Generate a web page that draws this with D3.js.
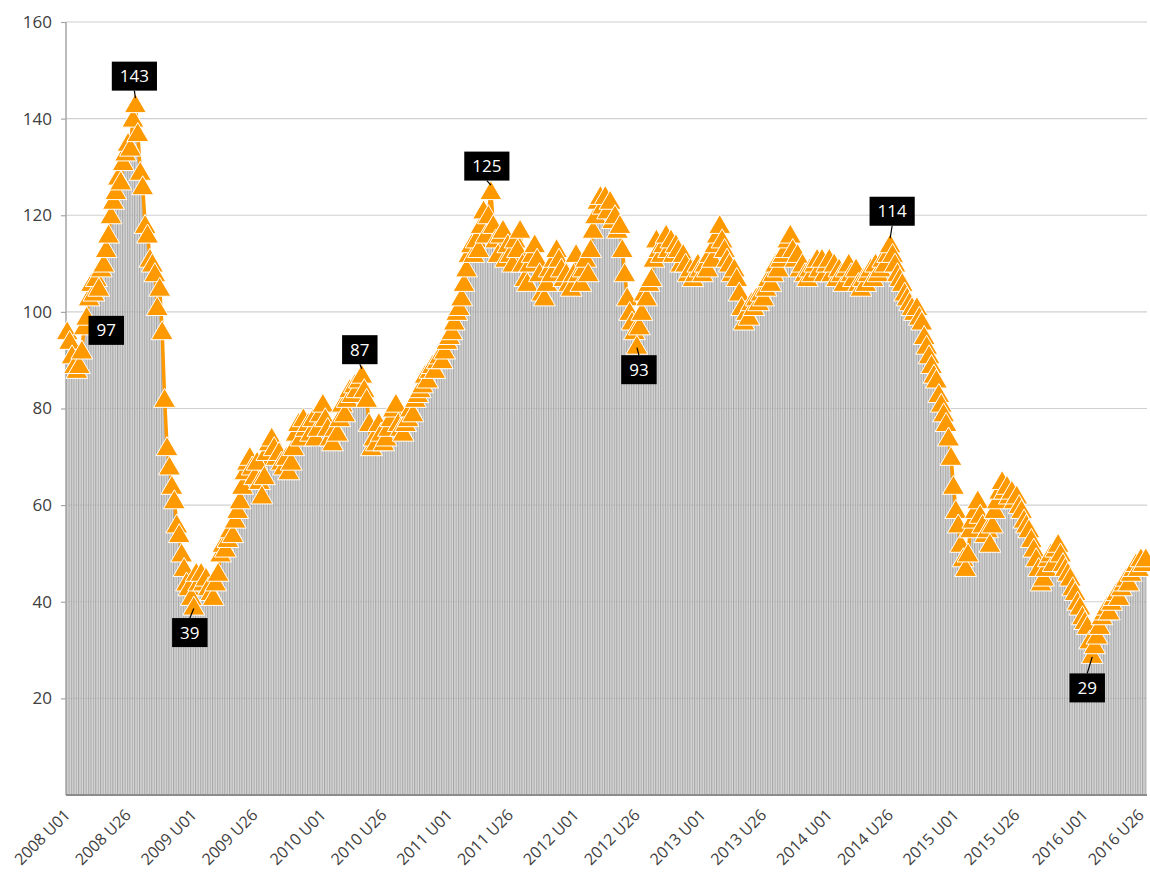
<!DOCTYPE html>
<html>

<head>
  <meta charset="utf-8">
  <script src="https://d3js.org/d3.v7.min.js"></script>
  <style>
    body { margin: 0; background: #fff; }
    text { font-family: "Open Sans", "DejaVu Sans", sans-serif; }
  </style>
</head>

<body>
  <script>
    // Weekly values, one array per year
    const years = [2008, 2009, 2010, 2011, 2012, 2013, 2014, 2015, 2016];
    const weeksPerYear = [52, 53, 52, 52, 52, 52, 52, 53, 26];

    const values2008 = [96, 94, 91, 89, 88, 89, 92, 97, 99, 103, 106, 104, 107, 105, 109, 110, 113, 116, 120, 123, 125, 128, 127, 131, 133, 135, 134, 140, 143, 137, 129, 126, 118, 116, 111, 110, 108, 101, 105, 96, 82, 72, 68, 64, 61, 56, 54, 50, 47, 44, 43, 41];
    const values2009 = [39, 46, 44, 46, 44, 45, 43, 42, 41, 44, 46, 50, 52, 51, 53, 55, 54, 57, 59, 61, 64, 67, 69, 70, 68, 66, 69, 65, 62, 66, 71, 73, 74, 72, 70, 71, 69, 68, 70, 67, 69, 72, 75, 77, 74, 78, 76, 77, 75, 78, 74, 76, 79];
    const values2010 = [81, 78, 76, 74, 73, 76, 75, 78, 81, 79, 82, 84, 83, 85, 84, 86, 87, 84, 82, 77, 72, 74, 73, 77, 75, 73, 74, 76, 78, 80, 81, 77, 76, 75, 77, 78, 80, 79, 82, 83, 84, 85, 87, 86, 88, 89, 88, 90, 91, 90, 92, 94];
    const values2011 = [95, 96, 98, 100, 101, 103, 106, 109, 112, 114, 112, 115, 113, 118, 121, 116, 120, 125, 118, 115, 112, 116, 117, 111, 114, 112, 110, 115, 113, 117, 110, 107, 106, 110, 112, 114, 111, 108, 104, 103, 106, 109, 108, 111, 113, 111, 109, 107, 108, 106, 105, 108];
    const values2012 = [112, 108, 106, 109, 111, 108, 113, 117, 120, 123, 124, 122, 124, 121, 123, 119, 120, 117, 118, 113, 108, 103, 100, 98, 96, 93, 97, 100, 104, 103, 106, 107, 111, 115, 113, 112, 114, 116, 113, 115, 112, 114, 113, 110, 112, 110, 108, 109, 107, 108, 110, 109];
    const values2013 = [108, 110, 109, 112, 111, 114, 116, 118, 115, 113, 111, 110, 108, 109, 107, 104, 101, 98, 100, 99, 102, 101, 103, 102, 104, 103, 105, 107, 106, 108, 110, 109, 111, 112, 113, 115, 116, 113, 111, 112, 109, 110, 108, 107, 109, 108, 110, 111, 109, 111, 108, 110];
    const values2014 = [111, 108, 110, 107, 109, 108, 106, 109, 110, 108, 107, 109, 106, 105, 107, 106, 108, 109, 107, 110, 108, 109, 111, 110, 112, 114, 112, 110, 108, 107, 106, 104, 103, 102, 101, 100, 101, 99, 98, 95, 93, 91, 89, 87, 86, 83, 81, 79, 77, 74, 70, 64];
    const values2015 = [59, 56, 52, 49, 47, 50, 55, 57, 59, 61, 58, 56, 54, 55, 52, 56, 59, 61, 63, 65, 63, 64, 62, 63, 61, 62, 60, 59, 57, 56, 55, 53, 51, 49, 47, 44, 45, 47, 49, 50, 48, 51, 52, 50, 48, 47, 46, 45, 43, 42, 40, 39, 37];
    const values2016 = [36, 35, 32, 29, 31, 33, 35, 37, 38, 39, 38, 40, 41, 42, 41, 43, 44, 45, 44, 46, 47, 48, 47, 49, 48, 49];

    const tickLabels = ["2008 U01", "2008 U26", "2009 U01", "2009 U26", "2010 U01", "2010 U26",
      "2011 U01", "2011 U26", "2012 U01", "2012 U26", "2013 U01", "2013 U26", "2014 U01",
      "2014 U26", "2015 U01", "2015 U26", "2016 U01", "2016 U26"];
    const yTicks = [20, 40, 60, 80, 100, 120, 140, 160];
    const labelledWeeks = ["2008 U08", "2008 U29", "2009 U01", "2010 U17", "2011 U18", "2012 U26", "2014 U26", "2016 U04"];

    const values = [].concat(values2008, values2009, values2010, values2011, values2012,
      values2013, values2014, values2015, values2016);

    const categories = [];
    years.forEach((y, k) => {
      for (let w = 1; w <= weeksPerYear[k]; w++) categories.push(y + " U" + String(w).padStart(2, "0"));
    });
    const data = categories.map((c, i) => ({ cat: c, value: values[i] }));

    const width = 1150, height = 873;
    const margin = { top: 22, right: 3, bottom: 78, left: 66 };

    const svg = d3.select("body").append("svg")
      .attr("width", width)
      .attr("height", height);

    const x = d3.scaleBand()
      .domain(categories)
      .range([margin.left, width - margin.right])
      .padding(0);
    const y = d3.scaleLinear()
      .domain([0, 160])
      .range([height - margin.bottom, margin.top]);
    const bw = x.bandwidth();
    const cx = c => x(c) + bw / 2;

    //gridlines
    svg.append("g").selectAll("line")
      .data(yTicks)
      .enter().append("line")
      .attr("x1", margin.left).attr("x2", width - margin.right)
      .attr("y1", d => y(d)).attr("y2", d => y(d))
      .attr("stroke", "#d0d0d0").attr("stroke-width", 1.2);

    //bars
    const bars = svg.append("g");
    bars.selectAll("rect")
      .data(data)
      .enter().append("rect")
      .attr("x", d => x(d.cat) + 0.6)
      .attr("width", bw * 0.62)
      .attr("y", d => y(d.value))
      .attr("height", d => y(0) - y(d.value))
      .attr("fill", "#cccccc");
    bars.selectAll("line")
      .data(data)
      .enter().append("line")
      .attr("x1", d => x(d.cat) + 0.4).attr("x2", d => x(d.cat) + 0.4)
      .attr("y1", d => y(d.value)).attr("y2", y(0))
      .attr("stroke", "#858585").attr("stroke-width", 0.7);

    //axes
    const yAxis = svg.append("g")
      .attr("transform", "translate(" + margin.left + ",0)")
      .call(d3.axisLeft(y).tickValues(yTicks).tickSize(5).tickPadding(9));
    yAxis.select(".domain").attr("stroke", "#a6a6a6").attr("stroke-width", 1.5)
      .attr("d", "M0," + y(0) + "V" + y(160));
    yAxis.selectAll(".tick line").attr("stroke", "#a6a6a6").attr("stroke-width", 1.2);
    yAxis.selectAll(".tick text")
      .attr("fill", "#404040")
      .style("font-size", "17px")
      .style("font-family", "'Open Sans', sans-serif");

    svg.append("line")
      .attr("x1", margin.left).attr("x2", width - margin.right)
      .attr("y1", y(0)).attr("y2", y(0))
      .attr("stroke", "#8c8c8c").attr("stroke-width", 2);

    svg.append("g").selectAll("text")
      .data(tickLabels)
      .enter().append("text")
      .attr("transform", d => "translate(" + Math.min(cx(d) + 4, width - 5) + "," + (y(0) + 21) + ") rotate(-45)")
      .attr("text-anchor", "end")
      .attr("fill", "#404040")
      .style("font-size", "16px")
      .text(d => d);

    //line and markers
    const orange = "#ff9900";
    svg.append("path")
      .datum(data)
      .attr("fill", "none")
      .attr("stroke", orange)
      .attr("stroke-width", 3.5)
      .attr("stroke-linejoin", "round")
      .attr("d", d3.line().x(d => cx(d.cat)).y(d => y(d.value)));

    const tri = "M0,-10.5L11,8.5L-11,8.5Z";
    svg.append("g").selectAll("path")
      .data(data)
      .enter().append("path")
      .attr("d", tri)
      .attr("transform", d => "translate(" + cx(d.cat) + "," + y(d.value) + ")")
      .attr("fill", orange)
      .attr("stroke", "#ffffff")
      .attr("stroke-width", 1);

    //data labels
    const labelOffsets = {
      "2008 U08": [22, 4], "2008 U29": [-1, -28], "2009 U01": [-4, 26], "2010 U17": [-2, -25],
      "2011 U18": [-4, -25], "2012 U26": [2, 24], "2014 U26": [2, -33], "2016 U04": [-5, 33]
    };
    const labels = svg.append("g");
    labelledWeeks.forEach(c => {
      const d = data.find(e => e.cat === c);
      const px = cx(c), py = y(d.value);
      const off = labelOffsets[c];
      const lx = px + off[0], ly = py + off[1];
      const g = labels.append("g");
      const t = g.append("text")
        .attr("x", lx).attr("y", ly)
        .attr("text-anchor", "middle")
        .attr("dy", "0.36em")
        .attr("fill", "#fff")
        .style("font-size", "17px")
        .text(d.value);
      const tw = t.node().getComputedTextLength();
      const bwid = tw + 16, bh = 29;
      if (c !== "2008 U08") {
        const edge = off[1] < 0 ? ly + bh / 2 : ly - bh / 2;
        g.insert("line", "text")
          .attr("x1", px).attr("y1", py - (off[1] < 0 ? 6 : -2))
          .attr("x2", lx).attr("y2", edge)
          .attr("stroke", "#000").attr("stroke-width", 1.2);
      }
      g.insert("rect", "text")
        .attr("x", lx - bwid / 2).attr("y", ly - bh / 2)
        .attr("width", bwid).attr("height", bh)
        .attr("fill", "#000");
    });
  </script>
</body>

</html>
